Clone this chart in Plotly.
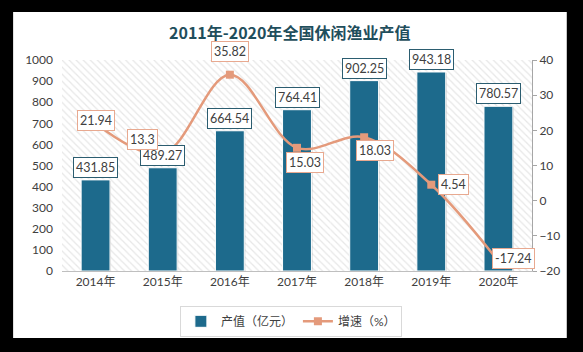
import plotly.graph_objects as go

years = ["2014年", "2015年", "2016年", "2017年", "2018年", "2019年", "2020年"]
output_value = [431.85, 489.27, 664.54, 764.41, 902.25, 943.18, 780.57]
growth = [21.94, 13.3, 35.82, 15.03, 18.03, 4.54, -17.24]
left_ticks = list(range(0, 1001, 100))
right_ticks = list(range(-20, 41, 10))

BAR = "#1d6a8c"
LINE = "#e49a7b"
TXT = "#404040"
FONT = "Lato, Noto Sans CJK SC"

# label pixel offsets for growth labels (xshift, yshift)
line_offsets = [(0, 3), (-20, 14), (0, 23), (8, -15), (11, -13), (22, 0), (15, 3)]

fig = go.Figure()

# hatched background
fig.add_trace(go.Bar(
    x=years, y=[1000] * len(years), width=1.0,
    marker=dict(color="white", line=dict(width=0),
                pattern=dict(shape="\\", fgcolor="#d0d0d0", bgcolor="white", size=5, solidity=0.25)),
    hoverinfo="skip", showlegend=False,
))
# bar shadows
fig.add_trace(go.Bar(
    x=years, y=[v - 4 for v in output_value], width=0.43, offset=-0.2,
    marker=dict(color="rgba(120,120,120,0.35)", line=dict(width=0)),
    hoverinfo="skip", showlegend=False,
))
fig.add_trace(go.Bar(
    x=years, y=output_value, width=0.43, name="产值（亿元）",
    marker=dict(color=BAR, line=dict(width=1, color="white")),
))
fig.add_trace(go.Scatter(
    x=years, y=growth, yaxis="y2", name="增速（%）", mode="lines+markers",
    line=dict(color=LINE, width=2.5, shape="spline", smoothing=1.0),
    marker=dict(symbol="square", size=8, color=LINE),
))

annotations = []
for x, v in zip(years, output_value):
    annotations.append(dict(
        x=x, y=v, xref="x", yref="y", text=f"{v:.2f}", showarrow=False,
        yanchor="bottom", yshift=2, font=dict(family=FONT, size=12.5, color=TXT),
        bgcolor="white", bordercolor="#2b5d70", borderwidth=1, borderpad=2,
    ))
for x, v, (dx, dy) in zip(years, growth, line_offsets):
    annotations.append(dict(
        x=x, y=v, xref="x", yref="y2", text=f"{v:g}", showarrow=False,
        xshift=dx, yshift=dy,
        font=dict(family=FONT, size=12.5, color=TXT),
        bgcolor="white", bordercolor="#e8a990", borderwidth=1, borderpad=2,
    ))

fig.update_layout(
    width=583, height=352,
    margin=dict(l=62, r=51, t=60, b=81),
    paper_bgcolor="black", plot_bgcolor="white",
    barmode="overlay",
    title=dict(text="<b>2011年-2020年全国休闲渔业产值</b>", x=0.497, xanchor="center",
               y=0.905, yanchor="middle",
               font=dict(family="Noto Sans CJK SC", size=16, color="#1f4e5c")),
    font=dict(family=FONT, size=12, color=TXT),
    xaxis=dict(showline=True, linecolor="#bfbfbf", linewidth=1, ticks="",
               tickfont=dict(size=12, color=TXT), showgrid=False, range=[-0.5, 6.5]),
    yaxis=dict(range=[0, 1000], tickvals=left_ticks, showgrid=False, zeroline=False,
               showline=False, ticks="", ticklabelstandoff=8,
               tickfont=dict(size=12, color=TXT)),
    yaxis2=dict(range=[-20, 40], tickvals=right_ticks, overlaying="y", side="right",
                showgrid=False, zeroline=False, showline=True, linecolor="#a6a6a6",
                ticks="outside", ticklen=4, tickcolor="#a6a6a6",
                tickfont=dict(size=12, color=TXT)),
    legend=dict(orientation="h", x=0.487, xanchor="center", y=-0.165, yanchor="top",
                bordercolor="#d9d9d9", borderwidth=1, bgcolor="white",
                font=dict(size=12, color=TXT), traceorder="normal"),
    annotations=annotations,
    shapes=[dict(type="rect", xref="paper", yref="paper", x0=-0.104, x1=1.074,
                 y0=-0.318, y1=1.227, fillcolor="white", line=dict(width=0), layer="below")],
)

fig.write_html("out.html")
